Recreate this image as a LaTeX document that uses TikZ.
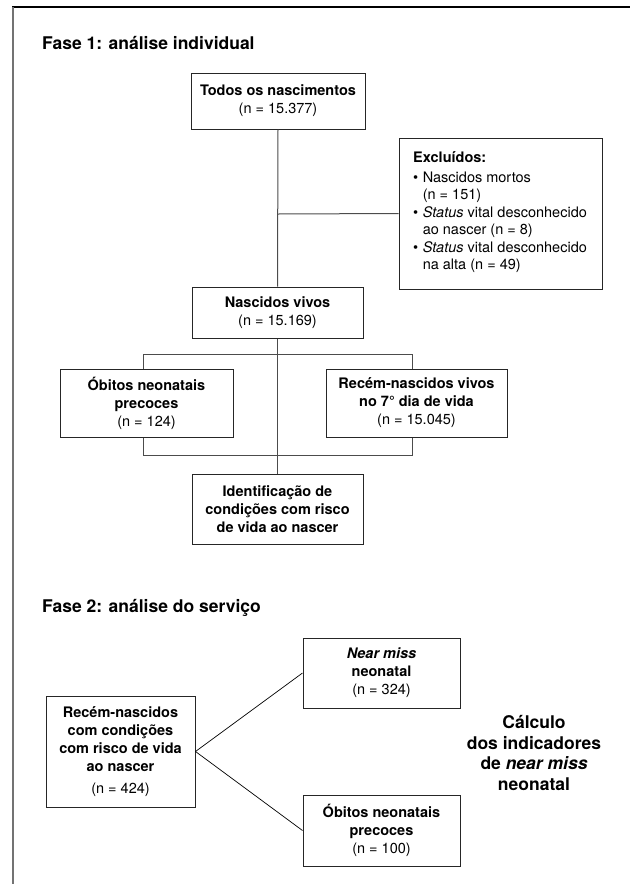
\documentclass[tikz,border=0pt]{standalone}
\usepackage{fontspec}
\setmainfont{TeX Gyre Heros}
\begin{document}
\begin{tikzpicture}[x=1pt,y=-1pt,
  box/.style={draw=black!85, line width=1pt, inner sep=0pt, align=center, font=\fontsize{14.5}{18}\selectfont},
  conn/.style={draw=black!70, line width=1pt},
  diag/.style={draw=black, line width=0.7pt},
  phasetitle/.style={font=\fontsize{17.5}{20}\selectfont\bfseries, anchor=west, inner sep=0pt},
  listtext/.style={anchor=north west, align=left, inner sep=0pt, font=\fontsize{14.5}{17}\selectfont}]
\useasboundingbox (0,0) rectangle (630,884);
% frame
\draw[black, line width=1.3pt] (12.3,7) -- (630,7);
\draw[black!55, line width=1.5pt] (13,7) -- (13,884);

% Phase 1
\node[phasetitle] (f1) at (42,43) {Fase 1: análise individual};
\node[box, minimum width=174pt, minimum height=56pt] (todos) at (278,101) {\textbf{Todos os nascimentos}\\(n = 15.377)};
\node[box, minimum width=203pt, minimum height=151pt] (excl) at (500.5,213.5) {};
\node[listtext] (excltext) at (413,151) {\textbf{Excluídos:}\\[3pt]
  \textbullet\hspace{4.5pt}Nascidos mortos\\
  \hphantom{\textbullet\hspace{4.5pt}}(n = 151)\\[1pt]
  \textbullet\hspace{4.5pt}\textit{Status} vital desconhecido\\
  \hphantom{\textbullet\hspace{4.5pt}}ao nascer (n = 8)\\[1pt]
  \textbullet\hspace{4.5pt}\textit{Status} vital desconhecido\\
  \hphantom{\textbullet\hspace{4.5pt}}na alta (n = 49)};
\node[box, minimum width=171pt, minimum height=51pt] (nasc) at (277.5,312.5) {\textbf{Nascidos vivos}\\(n = 15.169)};
\node[box, minimum width=173pt, minimum height=68pt] (obitos) at (146.5,403) {\textbf{Óbitos neonatais}\\\textbf{precoces}\\(n = 124)};
\node[box, minimum width=181pt, minimum height=68pt] (recem) at (416.5,403) {\textbf{Recém-nascidos vivos}\\\textbf{no 7° dia de vida}\\(n = 15.045)};
\node[box, minimum width=171pt, minimum height=70pt] (ident) at (277.5,509) {\textbf{Identificação de}\\\textbf{condições com risco}\\\textbf{de vida ao nascer}};

\coordinate (j1) at (278,214);
\coordinate (bt1) at (143,354);
\coordinate (bt2) at (412,354);
\coordinate (bb1) at (143,455);
\coordinate (bb2) at (412,455);
\draw[conn] (todos.south) -- (nasc.north);
\draw[conn] (j1) -- (excl.west);
\draw[conn] (nasc.south) -- (ident.north);
\draw[conn] (obitos.north -| bt1) -- (bt1) -- (bt2) -- (bt2 |- recem.north);
\draw[conn] (obitos.south -| bb1) -- (bb1) -- (bb2) -- (bb2 |- recem.south);

% Phase 2
\node[phasetitle] (f2) at (42,608) {Fase 2: análise do serviço};
\node[box, minimum width=149pt, minimum height=111pt] (r2) at (120.5,751.5) {\textbf{Recém-nascidos}\\\textbf{com condições}\\\textbf{com risco de vida}\\\textbf{ao nascer}\\[4pt](n = 424)};
\node[box, minimum width=157pt, minimum height=70pt] (nm) at (381.5,673) {\textbf{\textit{Near miss}}\\\textbf{neonatal}\\(n = 324)};
\node[box, minimum width=157pt, minimum height=71pt] (ob2) at (381.5,830.5) {\textbf{Óbitos neonatais}\\\textbf{precoces}\\(n = 100)};
\draw[diag] (r2.east) -- (nm.west);
\draw[diag] (r2.east) -- (ob2.west);
\node[align=center, inner sep=0pt, font=\fontsize{17.5}{20.5}\selectfont\bfseries] (calc) at (534,753) {Cálculo\\dos indicadores\\de \textit{near miss}\\neonatal};
\end{tikzpicture}
\end{document}
